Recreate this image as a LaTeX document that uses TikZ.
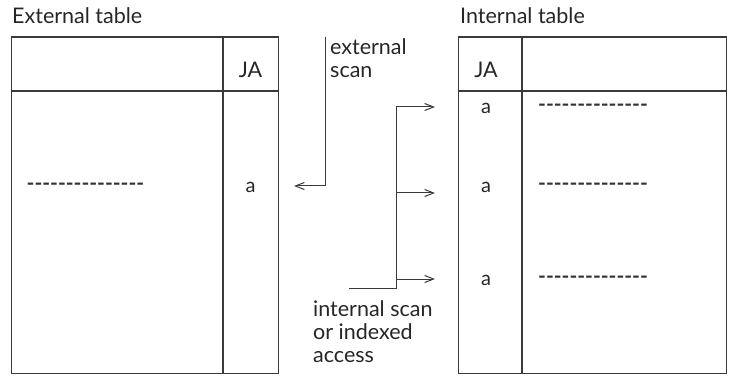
\documentclass[tikz,border=0pt]{standalone}
\usepackage{fontspec}
\setmainfont{Lato}
\usetikzlibrary{arrows.meta}
\definecolor{linegray}{HTML}{3A3A3A}
\tikzset{
  tbl/.style={draw=linegray, line width=1.2pt},
  conn/.style={draw=linegray, line width=1pt},
  arr/.style={conn, -{Straight Barb[length=9pt,width=7pt]}},
  lbl/.style={inner sep=0pt, font=\fontsize{21.5}{23}\selectfont, text=black!85},
  cell/.style={inner sep=0pt, font=\fontsize{20}{20}\selectfont, text=black!85},
  dashes/.style={inner sep=0pt, font=\fontsize{21}{16}\selectfont\bfseries, text=black!80},
}
\begin{document}
\begin{tikzpicture}[x=1pt,y=-1pt]
\useasboundingbox (0,0) rectangle (729,377);
% External table
\node[tbl, inner sep=0pt, minimum width=267pt, minimum height=336.5pt, anchor=north west] (ext) at (11,36.5) {};
\draw[tbl] (11,91) -- (278,91);
\draw[tbl] (223,36.5) -- (223,373);
% Internal table
\node[tbl, inner sep=0pt, minimum width=268pt, minimum height=336.5pt, anchor=north west] (int) at (458,36.5) {};
\draw[tbl] (458,91) -- (726,91);
\draw[tbl] (522,36.5) -- (522,373);
% titles
\node[lbl, anchor=base west] (extt) at (12,24) {External table};
\node[lbl, anchor=base west] (intt) at (460,24) {Internal table};
% headers
\node[lbl, anchor=base] (ja1) at (250.5,78) {JA};
\node[lbl, anchor=base] (ja2) at (486,78) {JA};
% external row
\node[dashes, anchor=west] (d0) at (26.5,187) {-{}-{}-{}-{}-{}-{}-{}-{}-{}-{}-{}-{}-{}-{}-};
\node[cell] (a0) at (250.5,187) {a};
% internal rows
\node[cell] (a1) at (486,108) {a};
\node[dashes, anchor=west] (d1) at (538,108) {-{}-{}-{}-{}-{}-{}-{}-{}-{}-{}-{}-{}-{}-};
\node[cell] (a2) at (486,187) {a};
\node[dashes, anchor=west] (d2) at (538,187) {-{}-{}-{}-{}-{}-{}-{}-{}-{}-{}-{}-{}-{}-};
\node[cell] (a3) at (486,280) {a};
\node[dashes, anchor=west] (d3) at (538,280) {-{}-{}-{}-{}-{}-{}-{}-{}-{}-{}-{}-{}-{}-};
% external scan
\coordinate (es0) at (325,37);
\coordinate (es1) at (325,186);
\coordinate (es2) at (294,186);
\draw[arr] (es0) -- (es1) -- (es2);
\node[lbl, anchor=base west, align=left] (est) at (330,78) {external\\scan};
% internal scan
\coordinate (is0) at (349,288);
\coordinate (is1) at (396,288);
\coordinate (is2) at (396,107);
\coordinate (t1) at (435,107);
\coordinate (b2) at (396,193);
\coordinate (t2) at (435,193);
\coordinate (b3) at (396,279);
\coordinate (t3) at (435,279);
\draw[conn] (is0) -- (is1) -- (is2);
\draw[arr] (is2) -- (t1);
\draw[arr] (b2) -- (t2);
\draw[arr] (b3) -- (t3);
\node[lbl, anchor=base west, align=left] (ist) at (313,362) {internal scan\\or indexed\\access};
\end{tikzpicture}
\end{document}
